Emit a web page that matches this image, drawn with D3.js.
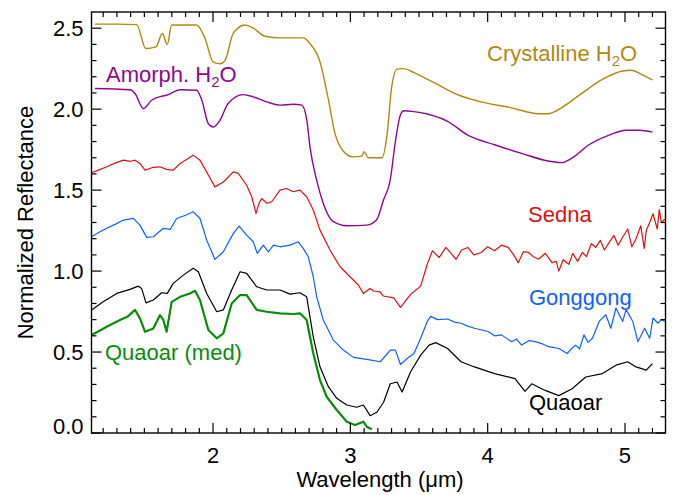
<!DOCTYPE html>
<html>
<head>
<meta charset="utf-8">
<script src="https://cdn.jsdelivr.net/npm/d3@7"></script>
<style>
    body { margin: 0; background: #fff; }
    svg { display: block; font-family: "Liberation Sans", Helvetica, Arial, sans-serif; }
    .frame { fill: none; stroke: #000; stroke-width: 1.4; }
    .tick-mark { stroke: #000; stroke-width: 1.2; }
    .spectrum { fill: none; stroke-linejoin: round; }
</style>
</head>
<body>
<svg id="chart"></svg>
<script>
// spectra: [wavelength (um), normalized reflectance]
const crystalline = [
    [1.14, 2.525], [1.30, 2.525], [1.444, 2.522], [1.51, 2.375], [1.585, 2.385], [1.631, 2.467],
    [1.667, 2.40], [1.699, 2.52], [1.881, 2.52], [1.94, 2.44], [2.002, 2.29], [2.051, 2.28],
    [2.087, 2.30], [2.148, 2.47], [2.233, 2.52], [2.293, 2.50], [2.379, 2.45], [2.488, 2.44],
    [2.658, 2.44], [2.706, 2.405], [2.78, 2.29], [2.84, 2.06], [2.888, 1.85], [2.949, 1.74],
    [3.022, 1.705], [3.083, 1.71], [3.10, 1.737], [3.131, 1.70], [3.23, 1.70], [3.267, 1.84],
    [3.30, 2.13], [3.34, 2.247], [3.39, 2.25], [3.463, 2.226], [3.61, 2.164], [3.78, 2.09],
    [3.93, 2.05], [4.174, 2.008], [4.37, 1.972], [4.44, 1.972], [4.54, 2.01], [4.665, 2.085],
    [4.836, 2.184], [4.983, 2.236], [5.044, 2.24], [5.13, 2.21], [5.20, 2.18]
]
const amorphous = [
    [1.14, 2.128], [1.395, 2.12], [1.432, 2.097], [1.492, 2.004], [1.553, 2.055], [1.626, 2.08],
    [1.662, 2.086], [1.76, 2.12], [1.881, 2.117], [1.918, 2.056], [1.966, 1.91], [2.002, 1.89],
    [2.05, 1.93], [2.11, 2.035], [2.22, 2.09], [2.293, 2.076], [2.39, 2.045], [2.488, 2.025],
    [2.585, 2.03], [2.646, 2.025], [2.683, 1.932], [2.706, 1.767], [2.755, 1.56], [2.803, 1.418],
    [2.876, 1.305], [2.974, 1.28], [3.12, 1.284], [3.19, 1.315], [3.242, 1.44], [3.29, 1.56],
    [3.328, 1.80], [3.365, 1.966], [3.39, 1.99], [3.463, 1.985], [3.56, 1.97], [3.708, 1.925],
    [3.855, 1.84], [4.05, 1.78], [4.247, 1.727], [4.44, 1.68], [4.54, 1.67], [4.61, 1.696],
    [4.738, 1.78], [4.885, 1.84], [5.008, 1.87], [5.106, 1.87], [5.20, 1.858]
]
const sedna = [
    [1.116, 1.607], [1.17, 1.625], [1.226, 1.644], [1.29, 1.668], [1.347, 1.685], [1.40, 1.678],
    [1.432, 1.685], [1.468, 1.665], [1.505, 1.623], [1.56, 1.64], [1.614, 1.644], [1.66, 1.628],
    [1.71, 1.623], [1.76, 1.665], [1.81, 1.69], [1.856, 1.716], [1.905, 1.685], [1.966, 1.593],
    [2.014, 1.52], [2.075, 1.55], [2.148, 1.613], [2.184, 1.603], [2.245, 1.53], [2.282, 1.459],
    [2.313, 1.356], [2.335, 1.42], [2.355, 1.448], [2.391, 1.418], [2.427, 1.428], [2.488, 1.50],
    [2.536, 1.51], [2.585, 1.49], [2.633, 1.50], [2.682, 1.459], [2.73, 1.377], [2.779, 1.253],
    [2.852, 1.13], [2.925, 1.027], [2.998, 0.965], [3.058, 0.914], [3.095, 0.862], [3.143, 0.893],
    [3.17, 0.877], [3.216, 0.872], [3.24, 0.846], [3.316, 0.835], [3.365, 0.776], [3.438, 0.855],
    [3.512, 0.907], [3.56, 1.042], [3.598, 1.125], [3.647, 1.084], [3.696, 1.146], [3.77, 1.073],
    [3.81, 1.13], [3.855, 1.146], [3.90, 1.10], [3.953, 1.115], [4.00, 1.15], [4.05, 1.125],
    [4.10, 1.16], [4.149, 1.146], [4.19, 1.10], [4.223, 1.052], [4.26, 1.12], [4.297, 1.115],
    [4.33, 1.09], [4.37, 1.073], [4.42, 1.11], [4.468, 1.052], [4.50, 1.06], [4.518, 1.00],
    [4.55, 1.07], [4.591, 1.042], [4.62, 1.11], [4.655, 1.06], [4.689, 1.115], [4.72, 1.09],
    [4.755, 1.17], [4.787, 1.146], [4.82, 1.19], [4.85, 1.13], [4.885, 1.177], [4.92, 1.22],
    [4.95, 1.16], [4.983, 1.209], [5.02, 1.26], [5.05, 1.15], [5.08, 1.198], [5.115, 1.28],
    [5.14, 1.14], [5.155, 1.25], [5.18, 1.30], [5.204, 1.354], [5.235, 1.26], [5.25, 1.38],
    [5.265, 1.30], [5.29, 1.32]
]
const gonggong = [
    [1.116, 1.212], [1.17, 1.24], [1.226, 1.264], [1.29, 1.29], [1.347, 1.315], [1.42, 1.325],
    [1.468, 1.284], [1.517, 1.208], [1.565, 1.212], [1.638, 1.264], [1.687, 1.257], [1.735, 1.325],
    [1.80, 1.345], [1.856, 1.366], [1.905, 1.325], [1.954, 1.191], [2.014, 1.072], [2.075, 1.119],
    [2.148, 1.233], [2.19, 1.278], [2.245, 1.222], [2.293, 1.181], [2.322, 1.109], [2.366, 1.16],
    [2.403, 1.119], [2.44, 1.16], [2.488, 1.15], [2.561, 1.16], [2.62, 1.181], [2.657, 1.14],
    [2.694, 1.088], [2.73, 0.965], [2.755, 0.841], [2.803, 0.698], [2.876, 0.574], [2.949, 0.512],
    [3.022, 0.467], [3.12, 0.455], [3.218, 0.44], [3.291, 0.512], [3.328, 0.512], [3.365, 0.423],
    [3.414, 0.46], [3.463, 0.491], [3.512, 0.585], [3.56, 0.689], [3.585, 0.72], [3.634, 0.70],
    [3.708, 0.704], [3.76, 0.685], [3.806, 0.678], [3.855, 0.66], [3.904, 0.647], [4.003, 0.627],
    [4.05, 0.60], [4.10, 0.606], [4.174, 0.564], [4.21, 0.58], [4.247, 0.543], [4.30, 0.57],
    [4.346, 0.564], [4.40, 0.55], [4.444, 0.533], [4.518, 0.522], [4.579, 0.491], [4.61, 0.52],
    [4.64, 0.543], [4.67, 0.52], [4.701, 0.606], [4.73, 0.56], [4.763, 0.585], [4.812, 0.689],
    [4.86, 0.73], [4.897, 0.647], [4.934, 0.772], [4.983, 0.689], [5.008, 0.762], [5.057, 0.689],
    [5.094, 0.564], [5.143, 0.647], [5.18, 0.585], [5.204, 0.71], [5.241, 0.678], [5.265, 0.70],
    [5.29, 0.69]
]
const quaoar = [
    [1.116, 0.76], [1.20, 0.81], [1.299, 0.862], [1.395, 0.887], [1.456, 0.907], [1.48, 0.893],
    [1.512, 0.804], [1.565, 0.821], [1.626, 0.866], [1.667, 0.862], [1.71, 0.924], [1.784, 0.975],
    [1.856, 1.017], [1.893, 0.996], [1.954, 0.862], [2.027, 0.749], [2.075, 0.76], [2.136, 0.883],
    [2.197, 0.996], [2.245, 0.986], [2.318, 0.903], [2.391, 0.883], [2.488, 0.883], [2.561, 0.858],
    [2.633, 0.866], [2.682, 0.841], [2.73, 0.594], [2.779, 0.409], [2.84, 0.286], [2.901, 0.214],
    [2.974, 0.173], [3.046, 0.159], [3.095, 0.173], [3.144, 0.107], [3.193, 0.128], [3.242, 0.19],
    [3.291, 0.304], [3.34, 0.315], [3.377, 0.253], [3.438, 0.377], [3.512, 0.481], [3.573, 0.543],
    [3.622, 0.558], [3.708, 0.522], [3.806, 0.44], [3.904, 0.408], [4.05, 0.367], [4.199, 0.336],
    [4.272, 0.257], [4.321, 0.304], [4.419, 0.263], [4.518, 0.231], [4.615, 0.273], [4.714, 0.346],
    [4.836, 0.367], [4.934, 0.419], [5.02, 0.44], [5.08, 0.408], [5.155, 0.388], [5.20, 0.429]
]
const quaoarMed = [
    [1.116, 0.605], [1.17, 0.63], [1.226, 0.656], [1.322, 0.698], [1.38, 0.72], [1.432, 0.76],
    [1.468, 0.708], [1.505, 0.625], [1.565, 0.646], [1.614, 0.728], [1.638, 0.698], [1.662, 0.625],
    [1.699, 0.81], [1.76, 0.841], [1.832, 0.862], [1.869, 0.878], [1.905, 0.821], [1.966, 0.636],
    [2.027, 0.585], [2.075, 0.615], [2.136, 0.80], [2.197, 0.852], [2.245, 0.852], [2.318, 0.76],
    [2.391, 0.749], [2.488, 0.739], [2.585, 0.735], [2.633, 0.739], [2.682, 0.698], [2.73, 0.492],
    [2.779, 0.327], [2.828, 0.224], [2.901, 0.142], [2.974, 0.07], [3.034, 0.049], [3.095, 0.07],
    [3.119, 0.039], [3.156, 0.023]
]

const series = [
    { name: 'crystalline', data: crystalline, color: '#b08a10', width: 1.4, smooth: true },
    { name: 'amorphous', data: amorphous, color: '#8e088e', width: 1.4, smooth: true },
    { name: 'sedna', data: sedna, color: '#dd1111', width: 1.2, smooth: false },
    { name: 'gonggong', data: gonggong, color: '#1060ff', width: 1.2, smooth: false },
    { name: 'quaoar', data: quaoar, color: '#000000', width: 1.2, smooth: false },
    { name: 'quaoarMed', data: quaoarMed, color: '#0a8c0a', width: 2.2, smooth: false },
]

const labels = [
    { text: 'Crystalline H', sub: '2', tail: 'O', x: 487, y: 61, color: '#b08a10' },
    { text: 'Amorph. H', sub: '2', tail: 'O', x: 106, y: 82, color: '#8e088e' },
    { text: 'Sedna', x: 528, y: 222, color: '#dd1111' },
    { text: 'Gonggong', x: 529, y: 305, color: '#1060ff' },
    { text: 'Quaoar', x: 529, y: 410, color: '#000000' },
    { text: 'Quaoar (med)', x: 105, y: 360, color: '#0a8c0a' },
]

const width = 673
const height = 495
const margin = { top: 12, right: 7.5, bottom: 62, left: 91.5 }

const svg = d3.select('#chart')
    .attr('width', width)
    .attr('height', height)

const x = d3.scaleLinear().domain([1.115, 5.295]).range([margin.left, width - margin.right])
const y = d3.scaleLinear().domain([0, 2.6]).range([height - margin.bottom, margin.top])

const plotTop = margin.top
const plotBottom = height - margin.bottom
const plotLeft = margin.left
const plotRight = width - margin.right

// clip the spectra to the frame
svg.append('clipPath').attr('id', 'plot-clip')
    .append('rect')
    .attr('x', plotLeft).attr('y', plotTop)
    .attr('width', plotRight - plotLeft).attr('height', plotBottom - plotTop)

const lineGroup = svg.append('g').attr('clip-path', 'url(#plot-clip)')
series.forEach(s => {
    const line = d3.line()
        .x(d => x(d[0]))
        .y(d => y(d[1]))
        .curve(s.smooth ? d3.curveMonotoneX : d3.curveLinear)
    lineGroup.append('path')
        .datum(s.data)
        .attr('class', 'spectrum')
        .attr('stroke', s.color)
        .attr('stroke-width', s.width)
        .attr('d', line)
})

// tick marks on all four sides
const xMajor = [2, 3, 4, 5]
const xMinor = d3.range(12, 53).map(v => v / 10).filter(v => !xMajor.includes(v))
const yMajor = [0, 0.5, 1, 1.5, 2, 2.5]
const yMinor = d3.range(1, 26).map(v => v / 10).filter(v => !yMajor.some(m => Math.abs(m - v) < 1e-6))

const ticks = svg.append('g')
const addX = (vals, len) => vals.forEach(v => {
    ticks.append('line').attr('class', 'tick-mark')
        .attr('x1', x(v)).attr('x2', x(v)).attr('y1', plotBottom).attr('y2', plotBottom - len)
    ticks.append('line').attr('class', 'tick-mark')
        .attr('x1', x(v)).attr('x2', x(v)).attr('y1', plotTop).attr('y2', plotTop + len)
})
const addY = (vals, len) => vals.forEach(v => {
    ticks.append('line').attr('class', 'tick-mark')
        .attr('x1', plotLeft).attr('x2', plotLeft + len).attr('y1', y(v)).attr('y2', y(v))
    ticks.append('line').attr('class', 'tick-mark')
        .attr('x1', plotRight).attr('x2', plotRight - len).attr('y1', y(v)).attr('y2', y(v))
})
addX(xMajor, 10)
addX(xMinor, 5)
addY(yMajor, 10)
addY(yMinor, 5)

svg.append('rect').attr('class', 'frame')
    .attr('x', plotLeft).attr('y', plotTop)
    .attr('width', plotRight - plotLeft).attr('height', plotBottom - plotTop)

// tick labels
svg.append('g').selectAll('text')
    .data(xMajor)
    .join('text')
    .attr('x', d => x(d))
    .attr('y', plotBottom + 30)
    .attr('text-anchor', 'middle')
    .attr('font-size', 22)
    .text(d => d)

svg.append('g').selectAll('text')
    .data(yMajor)
    .join('text')
    .attr('x', plotLeft - 8)
    .attr('y', d => y(d) + (d === 0 ? 1 : 8))
    .attr('text-anchor', 'end')
    .attr('font-size', 22)
    .text(d => d3.format('.1f')(d))

// axis titles
svg.append('text')
    .attr('x', 380)
    .attr('y', 487)
    .attr('text-anchor', 'middle')
    .attr('font-size', 22)
    .text('Wavelength (\u03bcm)')

svg.append('text')
    .attr('transform', `translate(33,${(plotTop + plotBottom) / 2}) rotate(-90)`)
    .attr('text-anchor', 'middle')
    .attr('font-size', 22)
    .text('Normalized Reflectance')

// curve labels
labels.forEach(l => {
    const t = svg.append('text')
        .attr('x', l.x).attr('y', l.y)
        .attr('font-size', 22)
        .attr('fill', l.color)
    t.append('tspan').text(l.text)
    if (l.sub) {
        t.append('tspan').attr('font-size', 15).attr('dy', 5).text(l.sub)
        t.append('tspan').attr('dy', -5).text(l.tail)
    }
})
</script>
</body>
</html>
